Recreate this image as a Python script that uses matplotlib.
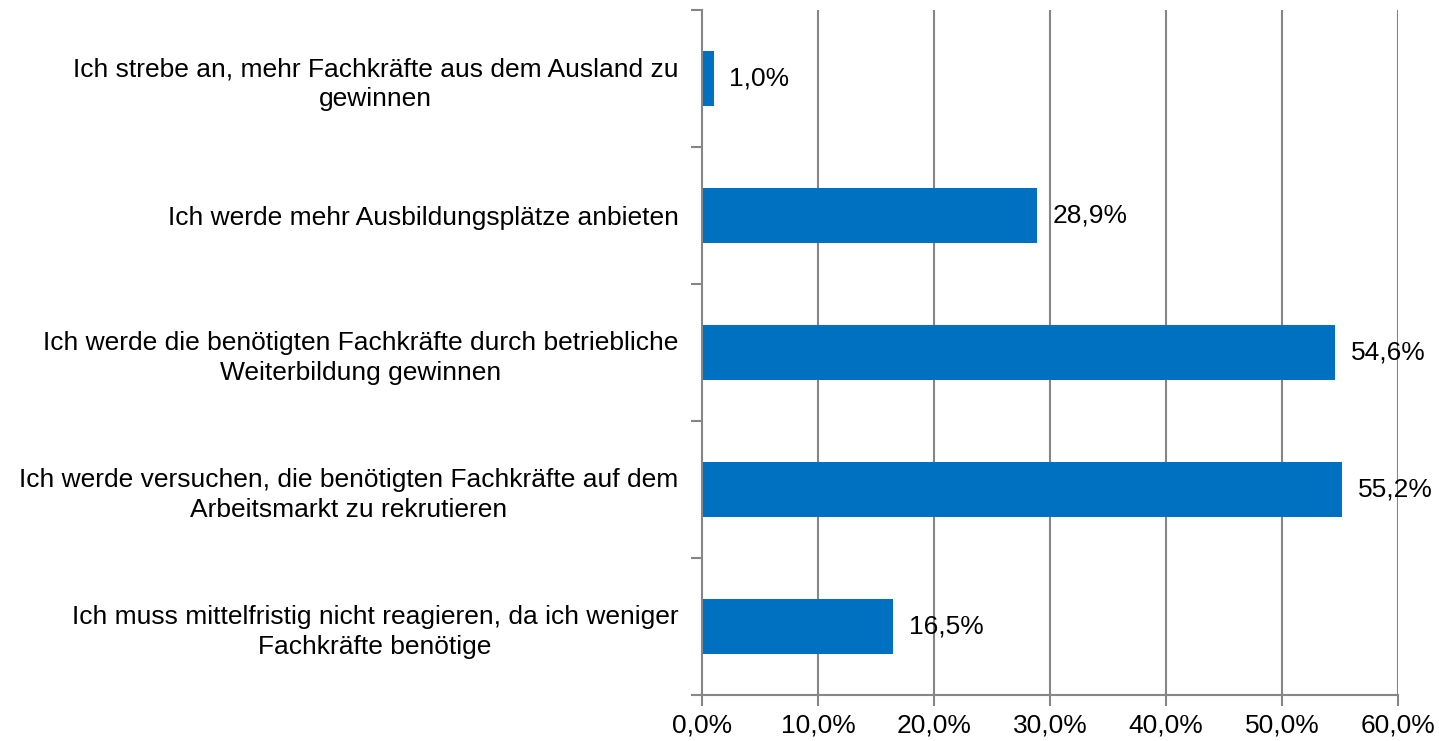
import matplotlib
matplotlib.use("Agg")
from matplotlib import pyplot as plt
from matplotlib.ticker import FixedLocator

plt.rcParams['font.family'] = ['Liberation Sans', 'DejaVu Sans']

categories = [
    "Ich strebe an, mehr Fachkräfte aus dem Ausland zu\ngewinnen",
    "Ich werde mehr Ausbildungsplätze anbieten",
    "Ich werde die benötigten Fachkräfte durch betriebliche\nWeiterbildung gewinnen",
    "Ich werde versuchen, die benötigten Fachkräfte auf dem\nArbeitsmarkt zu rekrutieren",
    "Ich muss mittelfristig nicht reagieren, da ich weniger\nFachkräfte benötige",
]
values = [1.0, 28.9, 54.6, 55.2, 16.5]
value_labels = ["1,0%", "28,9%", "54,6%", "55,2%", "16,5%"]
x_ticks = [0, 10, 20, 30, 40, 50, 60]
x_tick_labels = ["0,0%", "10,0%", "20,0%", "30,0%", "40,0%", "50,0%", "60,0%"]

grey = "#868686"
fs = 19
fig = plt.figure(figsize=(14.39, 7.41), dpi=100)
ax = fig.add_axes([702 / 1439, 46 / 741, 696 / 1439, 685 / 741])

ys = list(range(len(categories)))
ax.barh(ys, values, height=0.4, color="#0070C0", zorder=2)
ax.set_ylim(len(categories) - 0.5, -0.5)
ax.set_xlim(0, 60)

# gridlines, not on the 0 line (that is the axis)
for x in x_ticks[1:]:
    ax.axvline(x, color=grey, linewidth=1.5, zorder=1)

for y, v, lab in zip(ys, values, value_labels):
    ax.annotate(lab, (v, y), xytext=(11, 0), textcoords="offset points",
                va="center", ha="left", fontsize=fs, zorder=3)

ax.set_xticks(x_ticks)
ax.set_xticklabels(x_tick_labels, fontsize=fs)
ax.set_yticks(ys)
ax.set_yticklabels(categories, fontsize=fs, multialignment="center", linespacing=1.32)
ax.tick_params(axis="y", length=0, pad=17)
ax.yaxis.set_minor_locator(FixedLocator([y - 0.5 for y in range(len(categories) + 1)]))
ax.tick_params(axis="y", which="minor", length=8, width=1.5, color=grey)
ax.tick_params(axis="x", length=8, width=1.5, color=grey, direction="out", pad=5)

for side in ["top", "right"]:
    ax.spines[side].set_visible(False)
for side in ["left", "bottom"]:
    ax.spines[side].set_color(grey)
    ax.spines[side].set_linewidth(1.5)

fig.savefig("out.png", dpi=100)
